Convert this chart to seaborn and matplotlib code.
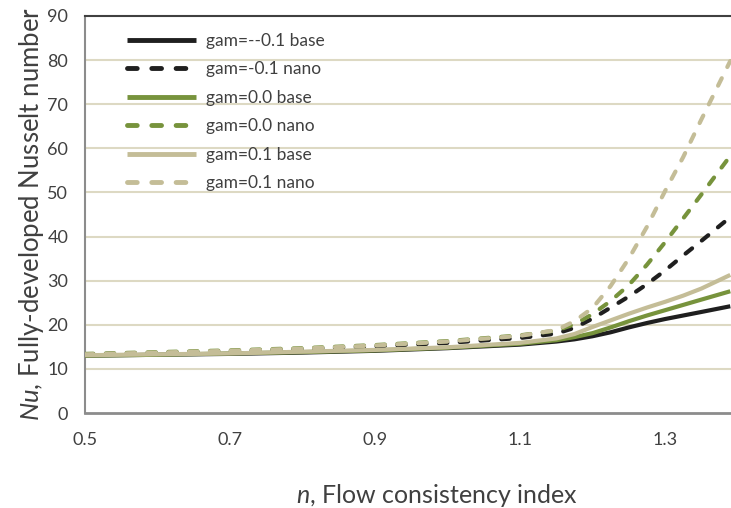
import matplotlib
matplotlib.use("Agg")
import matplotlib.pyplot as plt
import seaborn as sns
import pandas as pd

# Flow consistency index values
n_index = [0.5, 0.6, 0.7, 0.8, 0.9, 1.0, 1.1, 1.15, 1.175, 1.2, 1.225, 1.25,
           1.275, 1.3, 1.325, 1.35, 1.39]

# Fully-developed Nusselt number for each case
nu_m01_base = [13.0, 13.2, 13.4, 13.7, 14.1, 14.7, 15.5, 16.2, 16.7, 17.4, 18.3,
               19.4, 20.4, 21.3, 22.1, 22.9, 24.2]
nu_m01_nano = [13.3, 13.6, 14.0, 14.5, 15.1, 15.9, 17.0, 18.0, 19.3, 21.4, 23.9,
               26.4, 29.2, 32.3, 35.7, 39.0, 44.4]
nu_00_base = [13.0, 13.2, 13.5, 13.8, 14.2, 14.8, 15.7, 16.5, 17.2, 18.1, 19.4,
              20.8, 22.1, 23.3, 24.5, 25.7, 27.6]
nu_00_nano = [13.4, 13.8, 14.2, 14.7, 15.4, 16.3, 17.6, 18.7, 20.1, 22.4, 25.4,
              29.0, 33.6, 38.7, 44.1, 49.5, 58.3]
nu_01_base = [13.1, 13.3, 13.5, 13.9, 14.3, 14.9, 15.9, 16.9, 17.9, 19.5, 21.0,
              22.5, 23.9, 25.2, 26.6, 28.2, 31.3]
nu_01_nano = [13.3, 13.7, 14.1, 14.6, 15.3, 16.2, 17.5, 18.8, 20.8, 23.8, 28.8,
              35.0, 42.2, 50.3, 58.0, 66.5, 79.8]

series_labels = ["gam=--0.1 base", "gam=-0.1 nano", "gam=0.0 base",
                 "gam=0.0 nano", "gam=0.1 base", "gam=0.1 nano"]
series_values = [nu_m01_base, nu_m01_nano, nu_00_base, nu_00_nano, nu_01_base, nu_01_nano]

x_ticks = [0.5, 0.7, 0.9, 1.1, 1.3]
y_ticks = [0, 10, 20, 30, 40, 50, 60, 70, 80, 90]

frames = [pd.DataFrame({"n": n_index, "Nu": vals, "case": lab})
          for lab, vals in zip(series_labels, series_values)]
df = pd.concat(frames, ignore_index=True)

black, green, beige = "#1f1f1f", "#77933c", "#c4bd97"
palette = dict(zip(series_labels, [black, black, green, green, beige, beige]))
dash_on = (2.0, 3.0)
dashes = dict(zip(series_labels, ["", dash_on, "", dash_on, "", dash_on]))

sns.set_theme(style="white")
plt.rcParams["font.family"] = ["Lato", "DejaVu Sans"]
plt.rcParams["mathtext.fontset"] = "custom"
plt.rcParams["mathtext.it"] = "Lato:italic"
plt.rcParams["mathtext.rm"] = "Lato"

fig = plt.figure(figsize=(7.31, 5.08), dpi=100)
ax = fig.add_axes([85 / 731, 95 / 508, 646 / 731, 397 / 508])

sns.lineplot(data=df, x="n", y="Nu", hue="case", style="case",
             hue_order=series_labels, style_order=series_labels,
             palette=palette, dashes=dashes, linewidth=3.0,
             dash_capstyle="round", solid_capstyle="butt",
             legend=False, ax=ax, zorder=3)

ax.set_xlim(0.5, 1.391)
ax.set_ylim(0, 90)
ax.set_xticks(x_ticks)
ax.set_xticklabels([f"{v:.1f}" for v in x_ticks])
ax.set_yticks(y_ticks)
ax.set_yticklabels([str(v) for v in y_ticks])
ax.tick_params(axis="both", length=0, labelsize=13, colors="#404040")
ax.tick_params(axis="x", pad=14)
ax.tick_params(axis="y", pad=12)

for v in y_ticks[1:-1]:
    ax.axhline(v, color="#ddd9c3", linewidth=1.5, zorder=1)

ax.spines["right"].set_visible(False)
ax.spines["top"].set_color("#404040")
ax.spines["top"].set_linewidth(1.5)
ax.spines["left"].set_color("#8c8c8c")
ax.spines["left"].set_linewidth(1.5)
ax.spines["bottom"].set_color("#8c8c8c")
ax.spines["bottom"].set_linewidth(2.0)

ax.set_xlabel("$\\mathit{n}$, Flow consistency index", fontsize=18,
              color="#404040")
ax.xaxis.set_label_coords((437 - 85) / 646, -0.175)
ax.set_ylabel("$\\mathit{Nu}$, Fully-developed Nusselt number", fontsize=18.5,
              color="#404040", labelpad=1)

handles = ax.lines[:len(series_labels)]
leg = ax.legend(handles, series_labels, loc="upper left",
                bbox_to_anchor=(0.065, 0.958), frameon=False,
                fontsize=12.5, handlelength=4.0, handletextpad=0.55,
                labelspacing=0.72, borderpad=0, borderaxespad=0)
for t in leg.get_texts():
    t.set_color("#404040")
for h in leg.legend_handles:
    h.set_linewidth(3.5)

fig.savefig("out.png", dpi=100, facecolor="white")
